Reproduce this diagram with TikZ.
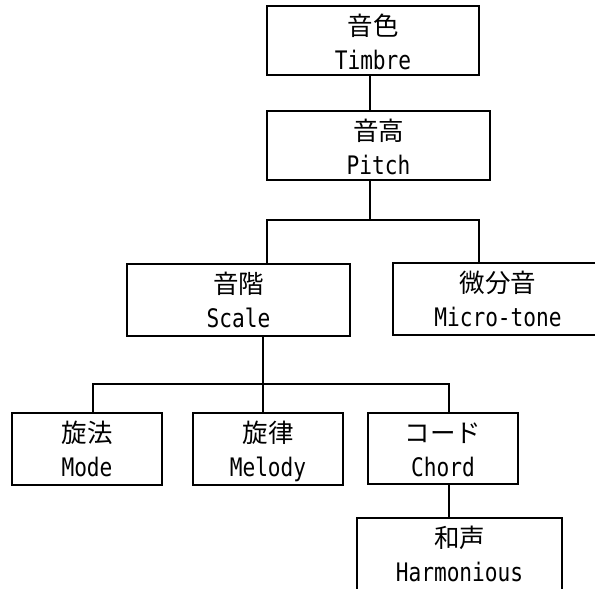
\documentclass[tikz,border=0pt]{standalone}
\usepackage{fontspec}
\newfontfamily\cjkfont{Noto Sans CJK JP}
\newfontfamily\latfont[FakeStretch=0.83]{DejaVu Sans Mono}
\tikzset{
  boxnode/.style={draw=black, line width=1.6pt, rectangle, inner sep=0pt, fill=white},
  kanjitext/.style={anchor=base, inner sep=0pt, font=\cjkfont\fontsize{25.5}{25.5}\selectfont},
  latintext/.style={anchor=base, inner sep=0pt, font=\latfont\fontsize{25.5}{25.5}\selectfont},
  conn/.style={draw=black, line width=1.5pt}
}
\newcommand{\entry}[7]{%
  \node[boxnode, minimum width=#4pt, minimum height=#5pt] (#1) at (#2,#3) {};
  \node[kanjitext] (#1-a) at ([yshift=-30.5pt]#1.north) {#6};
  \node[latintext] (#1-b) at ([yshift=-64.5pt]#1.north) {#7};
}
\begin{document}
\begin{tikzpicture}[x=1pt,y=-1pt]
\useasboundingbox (0,0) rectangle (595,589);
% junction coordinates
\coordinate (j1) at (370,220);
\coordinate (jl) at (267,220);
\coordinate (jr) at (479,220);
\coordinate (k1) at (263,384);
\coordinate (kl) at (93,384);
\coordinate (kr) at (449,384);
% connectors (drawn first, boxes on top)
\draw[conn] (370,75) -- (370,111);
\draw[conn] (370,180) -- (j1);
\draw[conn] (267,264) -- (jl) -- (jr) -- (479,263);
\draw[conn] (263,336) -- (263,413);
\draw[conn] (93,413) -- (kl) -- (kr) -- (449,413);
\draw[conn] (449,484) -- (449,518);
% boxes
\entry{timbre}{373}{40.5}{212}{69}{音色}{Timbre}
\entry{pitch}{378.5}{145.5}{223}{69}{音高}{Pitch}
\entry{scale}{238.5}{300}{223}{72}{音階}{Scale}
\entry{micro}{498}{299}{210}{72}{微分音}{Micro-tone}
\entry{mode}{87}{449}{150}{72}{旋法}{Mode}
\entry{melody}{268}{449}{150}{72}{旋律}{Melody}
\entry{chord}{443}{448.5}{150}{71}{コード}{Chord}
\entry{harm}{459.5}{554.5}{205}{73}{和声}{Harmonious}
\end{tikzpicture}
\end{document}
